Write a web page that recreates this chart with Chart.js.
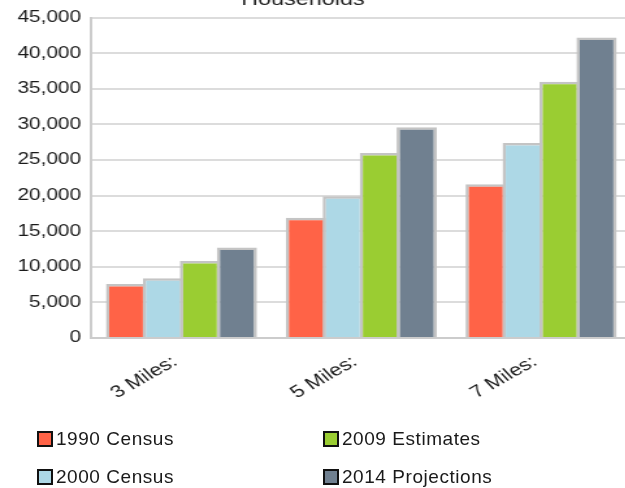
<!DOCTYPE html>
<html>
<head>
<meta charset="utf-8">
<script src="https://cdn.jsdelivr.net/npm/chart.js@4/dist/chart.umd.min.js"></script>
<style>
  html, body { margin: 0; padding: 0; background: #fff; overflow: hidden; width: 625px; height: 488px; }
  #stage { position: absolute; left: 0; top: 0; width: 490px; height: 400px; transform: scaleX(1.3); transform-origin: 0 0; }
  #legend { position: absolute; left: 0; top: 0; width: 625px; height: 488px; font-family: "Liberation Sans", Arial, sans-serif; font-size: 19px; letter-spacing: 0.55px; color: #1a1a1a; }
  .item { position: absolute; display: flex; align-items: center; white-space: nowrap; }
  .swatch { width: 12px; height: 12px; border: 2px solid #111; margin-right: 3px; }
</style>
</head>
<body>
<div id="stage"><canvas id="chart"></canvas></div>
<div id="legend"></div>
<script>
// Households within each radius, by source year
const TITLE = 'Households';
const categories = ['3 Miles:', '5 Miles:', '7 Miles:'];
const census1990 = [7600, 16900, 21600];
const census2000 = [8400, 19900, 27400];
const estimates2009 = [10800, 26000, 36000];
const projections2014 = [12700, 29600, 42200];
const seriesNames = ['1990 Census', '2000 Census', '2009 Estimates', '2014 Projections'];
const seriesColors = ['#ff6347', '#add8e6', '#9acd32', '#708090'];
const yTicks = { min: 0, max: 45000, step: 5000 };

const seriesValues = [census1990, census2000, estimates2009, projections2014];
const datasets = seriesNames.map((name, i) => ({
  label: name,
  data: seriesValues[i],
  backgroundColor: seriesColors[i],
  borderColor: '#c4c4c4',
  borderWidth: 2.5,
  borderSkipped: 'bottom',
  categoryPercentage: 0.822,
  barPercentage: 1.088
}));

// Heading sits partly above the canvas edge
const headingPlugin = {
  id: 'heading',
  afterDraw(chart) {
    const ctx = chart.ctx;
    ctx.save();
    ctx.font = '18px "Liberation Sans", Arial, sans-serif';
    ctx.fillStyle = '#222';
    ctx.textAlign = 'center';
    ctx.textBaseline = 'alphabetic';
    ctx.fillText(TITLE, 233, 5);
    ctx.restore();
  }
};

const chart = new Chart(document.getElementById('chart'), {
  type: 'bar',
  data: { labels: categories, datasets },
  plugins: [headingPlugin],
  options: {
    responsive: true,
    maintainAspectRatio: false,
    animation: false,
    layout: { padding: { top: 16, right: 4.6, left: 0, bottom: 0 } },
    plugins: { legend: { display: false }, title: { display: false }, tooltip: { enabled: false } },
    scales: {
      x: {
        grid: { display: false },
        border: { color: '#cccccc', width: 2 },
        ticks: {
          font: { family: '"Liberation Sans", Arial, sans-serif', size: 17 },
          color: '#1a1a1a',
          minRotation: 36,
          maxRotation: 36,
          labelOffset: -5,
          padding: 6
        },
        afterFit(scale) { scale.height = 62; }
      },
      y: {
        min: yTicks.min,
        max: yTicks.max,
        grid: { color: '#dcdcdc', lineWidth: 2, drawTicks: false },
        border: { color: '#cccccc', width: 2 },
        ticks: {
          stepSize: yTicks.step,
          padding: 8,
          font: { family: '"Liberation Sans", Arial, sans-serif', size: 16 },
          color: '#1a1a1a',
          callback: v => v.toLocaleString('en-US')
        },
        afterFit(scale) { scale.width = 70.4; }
      }
    }
  }
});

// Two-column legend built from the chart's datasets
const legendPos = [
  { left: 37, top: 428 }, { left: 37, top: 466 },
  { left: 323, top: 428 }, { left: 323, top: 466 }
];
const legendEl = document.getElementById('legend');
chart.data.datasets.forEach((ds, i) => {
  const item = document.createElement('div');
  item.className = 'item';
  item.style.left = legendPos[i].left + 'px';
  item.style.top = legendPos[i].top + 'px';
  const sw = document.createElement('span');
  sw.className = 'swatch';
  sw.style.background = ds.backgroundColor;
  const tx = document.createElement('span');
  tx.textContent = ds.label;
  item.appendChild(sw);
  item.appendChild(tx);
  legendEl.appendChild(item);
});
</script>
</body>
</html>
